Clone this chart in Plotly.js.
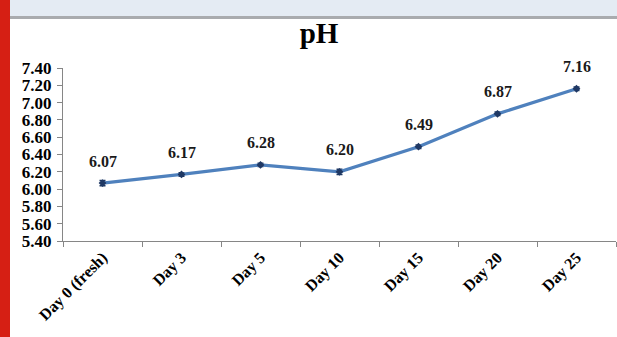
<!DOCTYPE html>
<html>
<head>
<meta charset="utf-8">
<script src="https://cdn.plot.ly/plotly-3.0.1.min.js"></script>
<style>
  html, body { margin: 0; padding: 0; background: #ffffff; }
  #wrap { position: relative; width: 617px; height: 337px; overflow: hidden; }
  #chart { position: absolute; left: 0; top: 0; width: 617px; height: 337px; }
  #redbar { position: absolute; left: 0; top: 0; width: 10px; height: 337px; background: #d61f14; z-index: 5; }
  #band { position: absolute; left: 10px; top: 0; width: 607px; height: 16px; background: #e4ebf3; z-index: 5; }
  #bandline { position: absolute; left: 10px; top: 16px; width: 607px; height: 3px; background: #a9abae; z-index: 5; }
</style>
</head>
<body>
<div id="wrap">
  <div id="chart"></div>
  <div id="redbar"></div>
  <div id="band"></div>
  <div id="bandline"></div>
</div>
<script>
const categories = ["Day 0 (fresh)", "Day 3", "Day 5", "Day 10", "Day 15", "Day 20", "Day 25"];
const phValues = [6.07, 6.17, 6.28, 6.20, 6.49, 6.87, 7.16];
const phErrors = [0.03, 0.02, 0.02, 0.03, 0.02, 0.02, 0.02];
const valueLabels = ["6.07", "6.17", "6.28", "6.20", "6.49", "6.87", "7.16"];
const yTickVals = [5.4, 5.6, 5.8, 6.0, 6.2, 6.4, 6.6, 6.8, 7.0, 7.2, 7.4];
const yTickText = ["5.40", "5.60", "5.80", "6.00", "6.20", "6.40", "6.60", "6.80", "7.00", "7.20", "7.40"];

const serif = "Liberation Serif, Times New Roman, serif";

const trace = {
  x: categories,
  y: phValues,
  type: "scatter",
  mode: "lines+markers",
  line: { color: "#4f81bd", width: 3.3 },
  marker: { symbol: "diamond", size: 6, color: "#1f3864" },
  error_y: { type: "data", array: phErrors, visible: true, color: "#1f3864", thickness: 1.5, width: 3 },
  hoverinfo: "skip"
};

const annotations = categories.map((c, i) => ({
  x: c, y: phValues[i], xref: "x", yref: "y",
  text: "<b>" + valueLabels[i] + "</b>",
  showarrow: false, yshift: 22,
  font: { family: serif, size: 16, color: "#1a1a1a" }
}));

const layout = {
  width: 617, height: 337,
  margin: { l: 63, r: 1, t: 68, b: 96 },
  paper_bgcolor: "#ffffff", plot_bgcolor: "#ffffff",
  showlegend: false,
  title: {
    text: "<b>pH</b>",
    font: { family: serif, size: 29, color: "#000000" },
    xref: "container", yref: "container",
    x: 0.517, xanchor: "center", y: 0.903, yanchor: "middle"
  },
  xaxis: {
    type: "category",
    range: [-0.5, 6.5],
    tickson: "boundaries",
    ticks: "outside", ticklen: 5, tickcolor: "#868686", tickwidth: 1,
    showline: true, linecolor: "#868686", linewidth: 1,
    showgrid: false, zeroline: false,
    tickangle: -45,
    tickfont: { family: serif, size: 16, color: "#000000", weight: "bold" },
    fixedrange: true
  },
  yaxis: {
    range: [5.4, 7.4],
    tickvals: yTickVals, ticktext: yTickText,
    ticks: "outside", ticklen: 5, tickcolor: "#868686", tickwidth: 1,
    showline: true, linecolor: "#868686", linewidth: 1,
    showgrid: false, zeroline: false,
    tickfont: { family: serif, size: 17, color: "#000000", weight: "bold" },
    ticklabelstandoff: 2,
    fixedrange: true
  },
  annotations: annotations
};

Plotly.newPlot("chart", [trace], layout, { displayModeBar: false, staticPlot: true });
</script>
</body>
</html>
